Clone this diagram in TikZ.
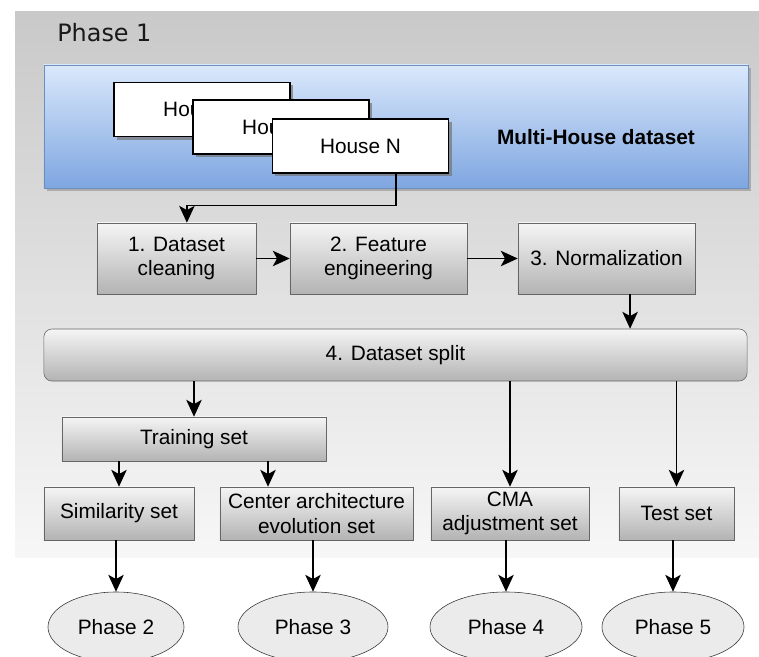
\documentclass[tikz,border=0pt]{standalone}
\usepackage{fontspec}
\setmainfont{Liberation Sans}
\newfontfamily\phasefont{DejaVu Sans}
\usetikzlibrary{positioning,arrows.meta,shadows,shapes.geometric}

\definecolor{panelTop}{HTML}{C9C9C9}
\definecolor{panelBottom}{HTML}{F7F7F7}
\definecolor{blueTop}{HTML}{DAE8FC}
\definecolor{blueBottom}{HTML}{7EA6E0}
\definecolor{blueLine}{HTML}{6C8EBF}
\definecolor{boxTop}{HTML}{F5F5F5}
\definecolor{boxBottom}{HTML}{B3B3B3}
\definecolor{boxLine}{HTML}{666666}
\definecolor{ellFill}{HTML}{EBEBEB}
\definecolor{ellLine}{HTML}{333333}

\begin{document}
\begin{tikzpicture}[x=0.025cm, y=-0.025cm,
  font=\fontsize{14.8}{17.4}\selectfont,
  procbox/.style={draw=boxLine, top color=boxTop, bottom color=boxBottom, align=center, inner sep=1pt},
  housebox/.style={draw=black, fill=white, line width=0.8pt, minimum width=4.4cm, minimum height=1.35cm,
    drop shadow={shadow xshift=0.075cm, shadow yshift=-0.075cm, fill=black!55, opacity=0.7}},
  phaseball/.style={ellipse, draw=ellLine, fill=ellFill, minimum height=1.75cm},
  arr/.style={line width=1.1pt, -{Stealth[length=12pt, width=11pt, inset=3pt]}}]
\useasboundingbox (0,0) rectangle (759,657);

% phase 1 panel
\shade[top color=panelTop, bottom color=panelBottom] (15,12) rectangle (759,557);
\node[font=\phasefont\fontsize{17}{20}\selectfont, text=black!90, anchor=base west, inner sep=0pt] (P1) at (57,42) {Phase 1};

% dataset
\node[draw=blueLine, top color=blueTop, bottom color=blueBottom, minimum width=17.6cm, minimum height=3.075cm,
  drop shadow={shadow xshift=0.075cm, shadow yshift=-0.075cm, fill=black!40, opacity=0.7}] (MH) at (396,126.5) {};
\node[housebox] (H1) at (202,109.5) {House 1};
\node[housebox] (H2) at (281,127) {House 2};
\node[housebox] (HN) at (360.5,146) {House N};
\node[font=\bfseries\fontsize{14.8}{17.4}\selectfont] (MHlabel) at (596,137) {Multi-House dataset};

% processing chain
\node[procbox, minimum width=3.975cm, minimum height=1.775cm] (clean) at (176.5,258.5) {1. Dataset\\cleaning};
\node[procbox, minimum width=4.425cm, minimum height=1.775cm] (feat) at (378.5,258.5) {2. Feature\\engineering};
\node[procbox, minimum width=4.425cm, minimum height=1.775cm] (norm) at (606.5,258.5) {3. Normalization};
\node[procbox, rounded corners=0.2cm, minimum width=17.575cm, minimum height=1.3cm] (split) at (395.5,355) {4. Dataset split};

% sets
\node[procbox, minimum width=6.6cm, minimum height=1.1cm] (train) at (194,439) {Training set};
\node[procbox, minimum width=3.75cm, minimum height=1.325cm] (sim) at (119,513.5) {Similarity set};
\node[procbox, minimum width=4.825cm, minimum height=1.325cm] (evo) at (316.5,513.5) {Center architecture\\evolution set};
\node[procbox, minimum width=3.95cm, minimum height=1.325cm] (cma) at (510,513.5) {CMA\\adjustment set};
\node[procbox, minimum width=2.875cm, minimum height=1.325cm] (test) at (676.5,513.5) {Test set};

% next phases
\node[phaseball, minimum width=3.4cm] (ph2) at (116,627) {Phase 2};
\node[phaseball, minimum width=3.75cm] (ph3) at (313,627) {Phase 3};
\node[phaseball, minimum width=3.8cm] (ph4) at (506,627) {Phase 4};
\node[phaseball, minimum width=3.55cm] (ph5) at (673,627) {Phase 5};

% connectors
\coordinate (hnout) at ([xshift=0.89cm]HN.south);
\coordinate (clin) at ([xshift=0.26cm]clean.north);
\coordinate (nout) at ([xshift=0.59cm]norm.south);
\coordinate (tout) at ([xshift=1.85cm]train.south);
\draw[arr] (hnout) -- ++(0,-0.8cm) -| (clin);
\draw[arr] (clean) -- (feat);
\draw[arr] (feat) -- (norm);
\draw[arr] (nout) -- (nout |- split.north);
\draw[arr] (train.north |- split.south) -- (train.north);
\draw[arr] (cma.north |- split.south) -- (cma.north);
\draw[arr] (test.north |- split.south) -- (test.north);
\draw[arr] (sim.north |- train.south) -- (sim.north);
\draw[arr] (tout) -- (tout |- evo.north);
\draw[arr] (ph2.north |- sim.south) -- (ph2.north);
\draw[arr] (ph3.north |- evo.south) -- (ph3.north);
\draw[arr] (ph4.north |- cma.south) -- (ph4.north);
\draw[arr] (ph5.north |- test.south) -- (ph5.north);
\end{tikzpicture}
\end{document}
